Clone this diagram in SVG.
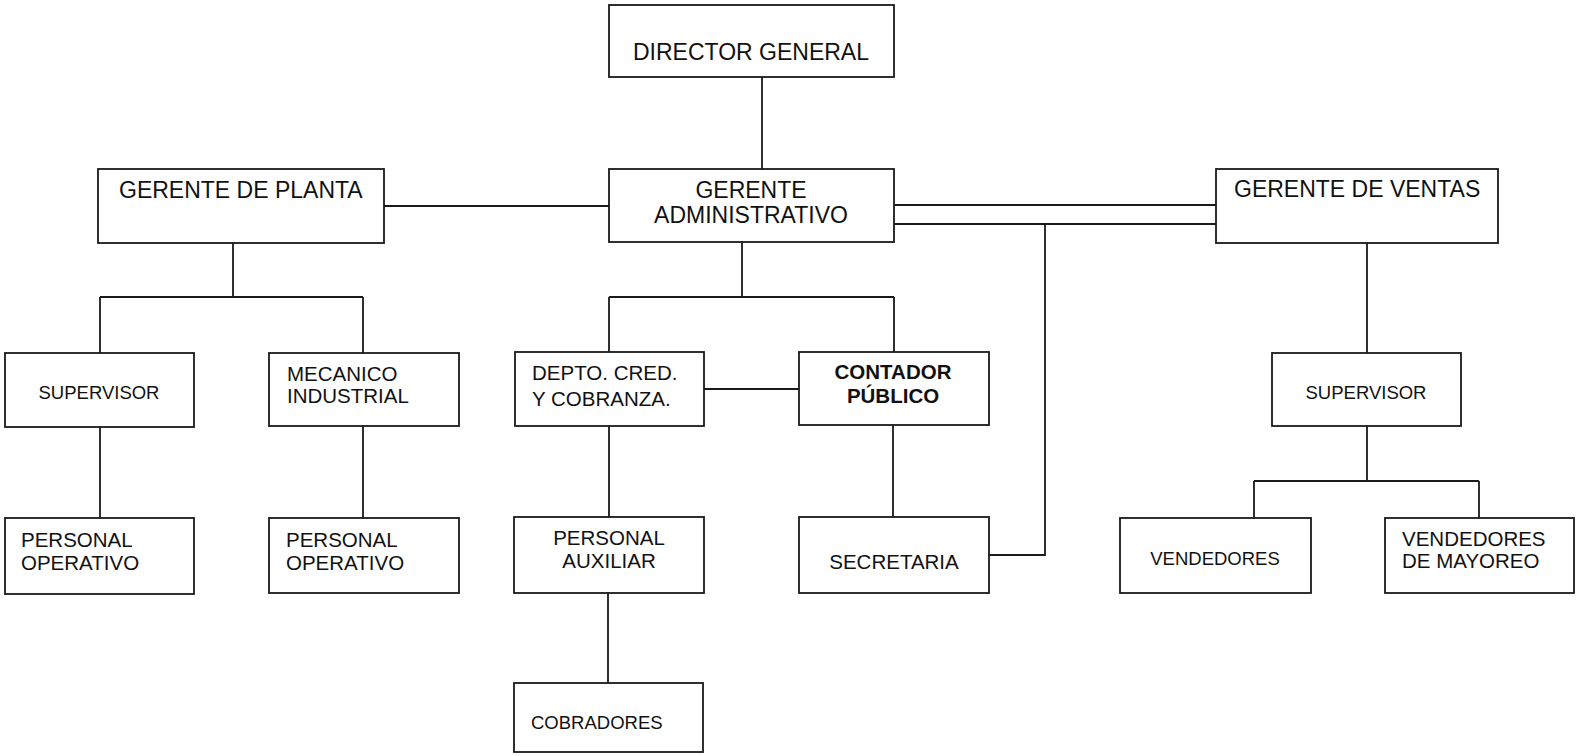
<svg xmlns="http://www.w3.org/2000/svg" width="1577" height="756" viewBox="0 0 1577 756">
<style>
.box{fill:#fff;stroke:#1a1a1a;stroke-width:1.8}
.ln{fill:none;stroke:#1a1a1a;stroke-width:1.8}
text{font-family:"Liberation Sans",Arial,sans-serif;fill:#111}
.h{font-size:23px}
.m{font-size:20.5px}
.s{font-size:18.5px}
.b{font-size:20.5px;font-weight:bold}
.c{text-anchor:middle}
</style>
<rect width="1577" height="756" fill="#fff"/>
<g id="connectors">
<path class="ln" d="M762 77V169"/>
<path class="ln" d="M384 206H609"/>
<path class="ln" d="M894 205H1216M894 224H1216"/>
<path class="ln" d="M233 243V297M100 297H363M100 297V353M363 297V353"/>
<path class="ln" d="M100 427V518M363 426V518"/>
<path class="ln" d="M742 242V297M609 297H894M609 297V352M894 297V352"/>
<path class="ln" d="M704 389H799"/>
<path class="ln" d="M609 426V517M608 593V683"/>
<path class="ln" d="M893 425V517"/>
<path class="ln" d="M989 555H1045V224"/>
<path class="ln" d="M1367 243V353M1367 426V481M1254 481H1479M1254 481V518M1479 481V518"/>
</g>
<g id="director-general"><rect class="box" x="609" y="5" width="285" height="72"/><text class="h c" x="751" y="60">DIRECTOR GENERAL</text></g>
<g id="gerente-administrativo"><rect class="box" x="609" y="169" width="285" height="73"/><text class="h c" x="751" y="198">GERENTE</text><text class="h c" x="751" y="223">ADMINISTRATIVO</text></g>
<g id="gerente-planta"><rect class="box" x="98" y="169" width="286" height="74"/><text class="h" x="119" y="198">GERENTE DE PLANTA</text></g>
<g id="gerente-ventas"><rect class="box" x="1216" y="169" width="282" height="74"/><text class="h" x="1234" y="197">GERENTE DE VENTAS</text></g>
<g id="supervisor-planta"><rect class="box" x="5" y="353" width="189" height="74"/><text class="s c" x="99" y="399">SUPERVISOR</text></g>
<g id="mecanico-industrial"><rect class="box" x="269" y="353" width="190" height="73"/><text class="m" x="287" y="381">MECANICO</text><text class="m" x="287" y="403">INDUSTRIAL</text></g>
<g id="personal-operativo-1"><rect class="box" x="5" y="518" width="189" height="76"/><text class="m" x="21" y="547">PERSONAL</text><text class="m" x="21" y="570">OPERATIVO</text></g>
<g id="personal-operativo-2"><rect class="box" x="269" y="518" width="190" height="75"/><text class="m" x="286" y="547">PERSONAL</text><text class="m" x="286" y="570">OPERATIVO</text></g>
<g id="depto-cred-cobranza"><rect class="box" x="515" y="352" width="189" height="74"/><text class="m" x="532" y="380">DEPTO. CRED.</text><text class="m" x="532" y="406">Y COBRANZA.</text></g>
<g id="contador-publico"><rect class="box" x="799" y="352" width="190" height="73"/><text class="b c" x="893" y="379">CONTADOR</text><text class="b c" x="893" y="403">PÚBLICO</text></g>
<g id="personal-auxiliar"><rect class="box" x="514" y="517" width="190" height="76"/><text class="m c" x="609" y="545">PERSONAL</text><text class="m c" x="609" y="568">AUXILIAR</text></g>
<g id="secretaria"><rect class="box" x="799" y="517" width="190" height="76"/><text class="m c" x="894" y="569">SECRETARIA</text></g>
<g id="cobradores"><rect class="box" x="514" y="683" width="189" height="69"/><text class="s" x="531" y="729">COBRADORES</text></g>
<g id="supervisor-ventas"><rect class="box" x="1272" y="353" width="189" height="73"/><text class="s c" x="1366" y="399">SUPERVISOR</text></g>
<g id="vendedores"><rect class="box" x="1120" y="518" width="191" height="75"/><text class="s c" x="1215" y="565">VENDEDORES</text></g>
<g id="vendedores-mayoreo"><rect class="box" x="1385" y="518" width="189" height="75"/><text class="m" x="1402" y="546">VENDEDORES</text><text class="m" x="1402" y="568">DE MAYOREO</text></g>
</svg>
